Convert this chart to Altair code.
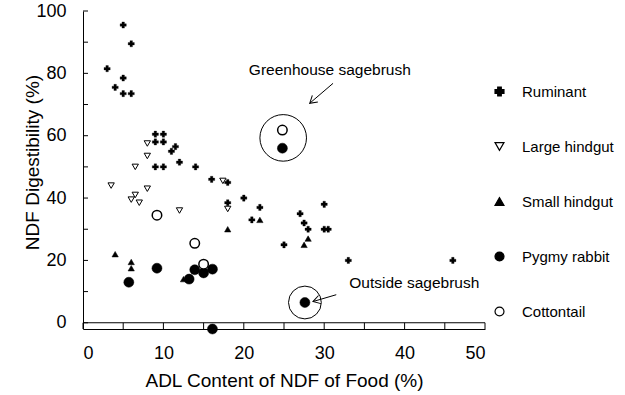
import math
import altair as alt
import pandas as pd

FONT = "Liberation Sans"

# NDF digestibility vs ADL content, by digestive strategy
ruminant_x = [5, 6, 3, 5, 4, 5, 6, 9, 10, 9, 10, 11, 11.5, 9, 10, 12, 14, 16, 18, 18,
              20, 22, 21, 30, 27, 27.5, 28, 30, 30.5, 25, 33, 46]
ruminant_y = [95.5, 89.5, 81.5, 78.5, 75.5, 73.5, 73.5, 60.5, 60.5, 58, 58, 55, 56.5, 50,
              50, 51.5, 50, 46, 45, 38.5, 40, 37, 33, 38, 35, 32, 30, 30, 30, 25, 20, 20]

large_hindgut_x = [8, 8, 6.5, 3.5, 8, 6.5, 6, 7, 12, 17.4, 18]
large_hindgut_y = [57.5, 53.5, 50, 44, 43, 41, 39.5, 38.5, 36, 45.5, 36.5]

small_hindgut_x = [4, 6, 6, 12.5, 18, 22, 28, 27.5]
small_hindgut_y = [22, 19.5, 17.5, 14, 30, 33, 27, 25]

pygmy_x = [5.7, 9.2, 13.2, 13.9, 15, 16.1, 16.1, 24.8, 27.6]
pygmy_y = [13, 17.5, 14, 17, 16, 17.2, -2, 56, 6.5]

cottontail_x = [9.2, 13.9, 15, 24.8]
cottontail_y = [34.5, 25.5, 18.8, 61.8]

groups = ["Ruminant", "Large hindgut", "Small hindgut", "Pygmy rabbit", "Cottontail"]
series = [
    (ruminant_x, ruminant_y),
    (large_hindgut_x, large_hindgut_y),
    (small_hindgut_x, small_hindgut_y),
    (pygmy_x, pygmy_y),
    (cottontail_x, cottontail_y),
]
shapes = ["cross", "triangle-down", "triangle-up", "circle", "circle"]
fills = ["black", "white", "black", "black", "white"]
marker_sizes = [38, 40, 40, 100, 90]
marker_strokes = [0.3, 1, 0.5, 0.5, 1.5]

# callouts
note_labels = ["Greenhouse sagebrush", "Outside sagebrush"]
note_x = [30.7, 41.2]
note_y = [81, 12.8]
ring_x = [24.9, 27.6]
ring_y = [59.3, 6.5]
ring_area = [2170, 1075]
arrow_x1 = [31.1, 31.5]
arrow_y1 = [76.8, 9.0]
arrow_x2 = [28.2, 28.6]
arrow_y2 = [70.4, 6.8]

x_ticks = list(range(0, 51, 5))
x_labels = list(range(0, 51, 10))
y_ticks = list(range(0, 101, 10))
y_labels = list(range(0, 101, 20))

W, H = 402, 318
X_DOM = [0, 50]
Y_DOM = [-2, 100]

kx = W / (X_DOM[1] - X_DOM[0])
ky = H / (Y_DOM[1] - Y_DOM[0])
arrows_df = pd.DataFrame({"x1": arrow_x1, "y1": arrow_y1, "x2": arrow_x2, "y2": arrow_y2})
arrows_df["angle"] = [
    math.degrees(math.atan2(-(b2 - b1) * ky, (a2 - a1) * kx)) % 360
    for a1, b1, a2, b2 in zip(arrow_x1, arrow_y1, arrow_x2, arrow_y2)
]
rings_df = pd.DataFrame({"x": ring_x, "y": ring_y, "area": ring_area})
notes_df = pd.DataFrame({"label": note_labels, "x": note_x, "y": note_y})

xs = alt.Scale(domain=X_DOM, nice=False, zero=False)
ys = alt.Scale(domain=Y_DOM, nice=False, zero=False)

x_axis = alt.Axis(values=x_labels, title="ADL Content of NDF of Food (%)",
                  ticks=False, tickSize=0, labelPadding=15, titlePadding=9, grid=False)
y_axis = alt.Axis(values=y_labels, title="NDF Digestibility (%)",
                  ticks=False, tickSize=0, labelPadding=17, grid=False,
                  titleX=-45, titleY=151, titleAlign="center", titleBaseline="alphabetic")

legend = alt.Legend(
    title=None, orient="none", legendX=409, legendY=73,
    labelFontSize=15, labelFont=FONT, labelColor="black",
    symbolSize=80, symbolStrokeColor="black", symbolStrokeWidth=1.2,
    rowPadding=39, labelOffset=15, padding=0,
)
shape_scale = alt.Scale(domain=groups, range=shapes)
fill_scale = alt.Scale(domain=groups, range=fills)
stroke_scale = alt.Scale(domain=groups, range=["black"] * len(groups))

# one layer per group so each keeps its own marker size and outline
point_layers = []
for g, (gx, gy), sz, sw in zip(groups, series, marker_sizes, marker_strokes):
    df = pd.DataFrame({"Group": g, "adl": gx, "ndf": gy})
    point_layers.append(
        alt.Chart(df).mark_point(filled=True, strokeWidth=sw, size=sz, opacity=1).encode(
            x=alt.X("adl:Q", scale=xs, axis=x_axis),
            y=alt.Y("ndf:Q", scale=ys, axis=y_axis),
            shape=alt.Shape("Group:N", scale=shape_scale, legend=legend),
            fill=alt.Fill("Group:N", scale=fill_scale, legend=legend),
            stroke=alt.Stroke("Group:N", scale=stroke_scale, legend=legend),
        )
    )

# inward ticks on the y axis
ytick_layer = alt.Chart(pd.DataFrame({"v": y_ticks})).mark_rule(color="black", strokeWidth=1).encode(
    y=alt.Y("v:Q", scale=ys), x=alt.value(0), x2=alt.value(5)
)

# banded x axis: top line and the divisions between it and the domain line
band_top = alt.Chart(pd.DataFrame({"a": [X_DOM[0]], "b": [X_DOM[1]], "y": [0]})).mark_rule(
    color="black", strokeWidth=1).encode(
    x=alt.X("a:Q", scale=xs), x2="b:Q", y=alt.Y("y:Q", scale=ys)
)
band_ticks = alt.Chart(pd.DataFrame({"v": x_ticks, "lo": Y_DOM[0], "hi": 0})).mark_rule(
    color="black", strokeWidth=1).encode(
    x=alt.X("v:Q", scale=xs), y=alt.Y("lo:Q", scale=ys), y2="hi:Q"
)

rings = alt.Chart(rings_df).mark_point(shape="circle", filled=False, color="black",
                                       strokeWidth=1, opacity=1).encode(
    x=alt.X("x:Q", scale=xs), y=alt.Y("y:Q", scale=ys),
    size=alt.Size("area:Q", scale=None, legend=None),
)

arrow_lines = alt.Chart(arrows_df).mark_rule(color="black", strokeWidth=1).encode(
    x=alt.X("x1:Q", scale=xs), y=alt.Y("y1:Q", scale=ys), x2="x2:Q", y2="y2:Q"
)
arrow_heads = alt.Chart(arrows_df).mark_point(
    shape="M -1 -0.6 L 0 0 L -1 0.6", filled=False, color="black", strokeWidth=1,
    opacity=1, size=200,
).encode(
    x=alt.X("x2:Q", scale=xs), y=alt.Y("y2:Q", scale=ys),
    angle=alt.Angle("angle:Q", scale=None),
)

notes = alt.Chart(notes_df).mark_text(font=FONT, fontSize=15.5, color="black",
                                      align="center", baseline="middle").encode(
    x=alt.X("x:Q", scale=xs), y=alt.Y("y:Q", scale=ys), text="label:N"
)

chart = alt.layer(
    band_top, band_ticks, ytick_layer, rings, arrow_lines, arrow_heads, notes, *point_layers
).resolve_scale(size="independent").properties(
    width=W, height=H,
    autosize=alt.AutoSizeParams(type="none"),
    padding={"left": 83, "top": 11, "right": 140, "bottom": 66},
).configure_view(stroke=None).configure_axis(
    labelFont=FONT, titleFont=FONT, labelFontSize=18, titleFontSize=19,
    labelColor="black", titleColor="black", titleFontWeight="normal",
    domainColor="black", domainWidth=1,
)

chart.save("out.html", embed_options={"renderer": "svg", "actions": False})
